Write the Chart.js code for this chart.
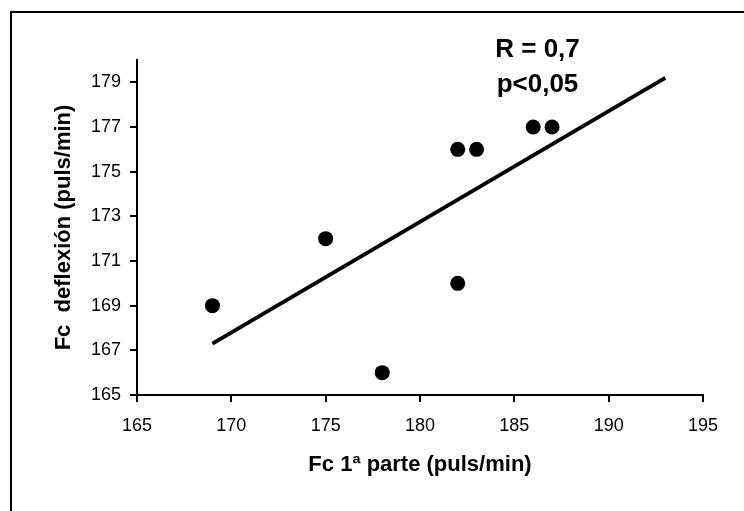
<!DOCTYPE html>
<html>
<head>
<meta charset="utf-8">
<script src="https://cdn.jsdelivr.net/npm/chart.js@4/dist/chart.umd.min.js"></script>
<style>
html,body{margin:0;padding:0;background:#fff;}
canvas{display:block;}
</style>
</head>
<body>
<canvas id="c" width="744" height="511"></canvas>
<script>
// Data
const fc1Parte = [169, 175, 178, 182, 182, 183, 186, 187];
const fcDeflexion = [169, 172, 166, 170, 176, 176, 177, 177];
const trendX = [169, 193];
const trendY = [167.3, 179.2];
const xTicks = [165, 170, 175, 180, 185, 190, 195];
const yTicks = [165, 167, 169, 171, 173, 175, 177, 179];
const xTitle = 'Fc 1ª parte (puls/min)';
const yTitle = 'Fc  deflexión (puls/min)';
const annotation = ['R = 0,7', 'p<0,05'];

const FONT = "'Liberation Sans', Arial, sans-serif";

const points = fc1Parte.map((x, i) => ({x: x, y: fcDeflexion[i]}));
const trend = trendX.map((x, i) => ({x: x, y: trendY[i]}));

const framePlugin = {
  id: 'frame',
  beforeDraw(chart) {
    const ctx = chart.ctx;
    ctx.save();
    ctx.fillStyle = '#fff';
    ctx.fillRect(0, 0, chart.width, chart.height);
    ctx.strokeStyle = '#000';
    ctx.lineWidth = 2;
    ctx.beginPath();
    ctx.moveTo(11, chart.height + 5);
    ctx.lineTo(11, 12);
    ctx.lineTo(chart.width + 5, 12);
    ctx.stroke();
    ctx.restore();
  },
  afterDraw(chart) {
    const ctx = chart.ctx;
    ctx.save();
    ctx.fillStyle = '#000';
    ctx.font = 'bold 26px ' + FONT;
    ctx.textAlign = 'center';
    ctx.textBaseline = 'alphabetic';
    ctx.fillText(annotation[0], 537.5, 56.5);
    ctx.fillText(annotation[1], 537.5, 91.5);
    ctx.restore();
  }
};

new Chart(document.getElementById('c'), {
  type: 'scatter',
  data: {
    datasets: [
      {
        type: 'line',
        data: trend,
        borderColor: '#000',
        borderWidth: 4,
        pointRadius: 0,
        fill: false,
        tension: 0
      },
      {
        data: points,
        backgroundColor: '#000',
        borderWidth: 0,
        pointRadius: 7.5,
        pointHoverRadius: 7.5
      }
    ]
  },
  options: {
    responsive: false,
    animation: false,
    devicePixelRatio: 1,
    layout: {padding: {left: 0, top: 60, right: 41, bottom: 0}},
    plugins: {legend: {display: false}, tooltip: {enabled: false}},
    scales: {
      x: {
        type: 'linear',
        min: 165,
        max: 195,
        afterBuildTicks: s => { s.ticks = xTicks.map(v => ({value: v})); },
        afterFit: s => { s.height = 116; },
        border: {display: true, color: '#000', width: 2},
        grid: {drawOnChartArea: false, drawTicks: true, tickLength: 7, color: '#000', lineWidth: 2},
        ticks: {color: '#000', font: {family: FONT, size: 18}, padding: 13, maxRotation: 0},
        title: {display: true, text: xTitle, color: '#000', font: {family: FONT, size: 22, weight: 'bold'}, padding: {top: 0, bottom: 33}}
      },
      y: {
        type: 'linear',
        min: 165,
        max: 180,
        afterBuildTicks: s => { s.ticks = yTicks.map(v => ({value: v})); },
        afterFit: s => { s.width = 137; },
        border: {display: true, color: '#000', width: 2},
        grid: {drawOnChartArea: false, drawTicks: true, tickLength: 7, color: '#000', lineWidth: 2},
        ticks: {color: '#000', font: {family: FONT, size: 18}, padding: 9},
        title: {display: true, text: yTitle, color: '#000', font: {family: FONT, size: 22, weight: 'bold'}, padding: {top: 51, bottom: 0}}
      }
    }
  },
  plugins: [framePlugin]
});
</script>
</body>
</html>
